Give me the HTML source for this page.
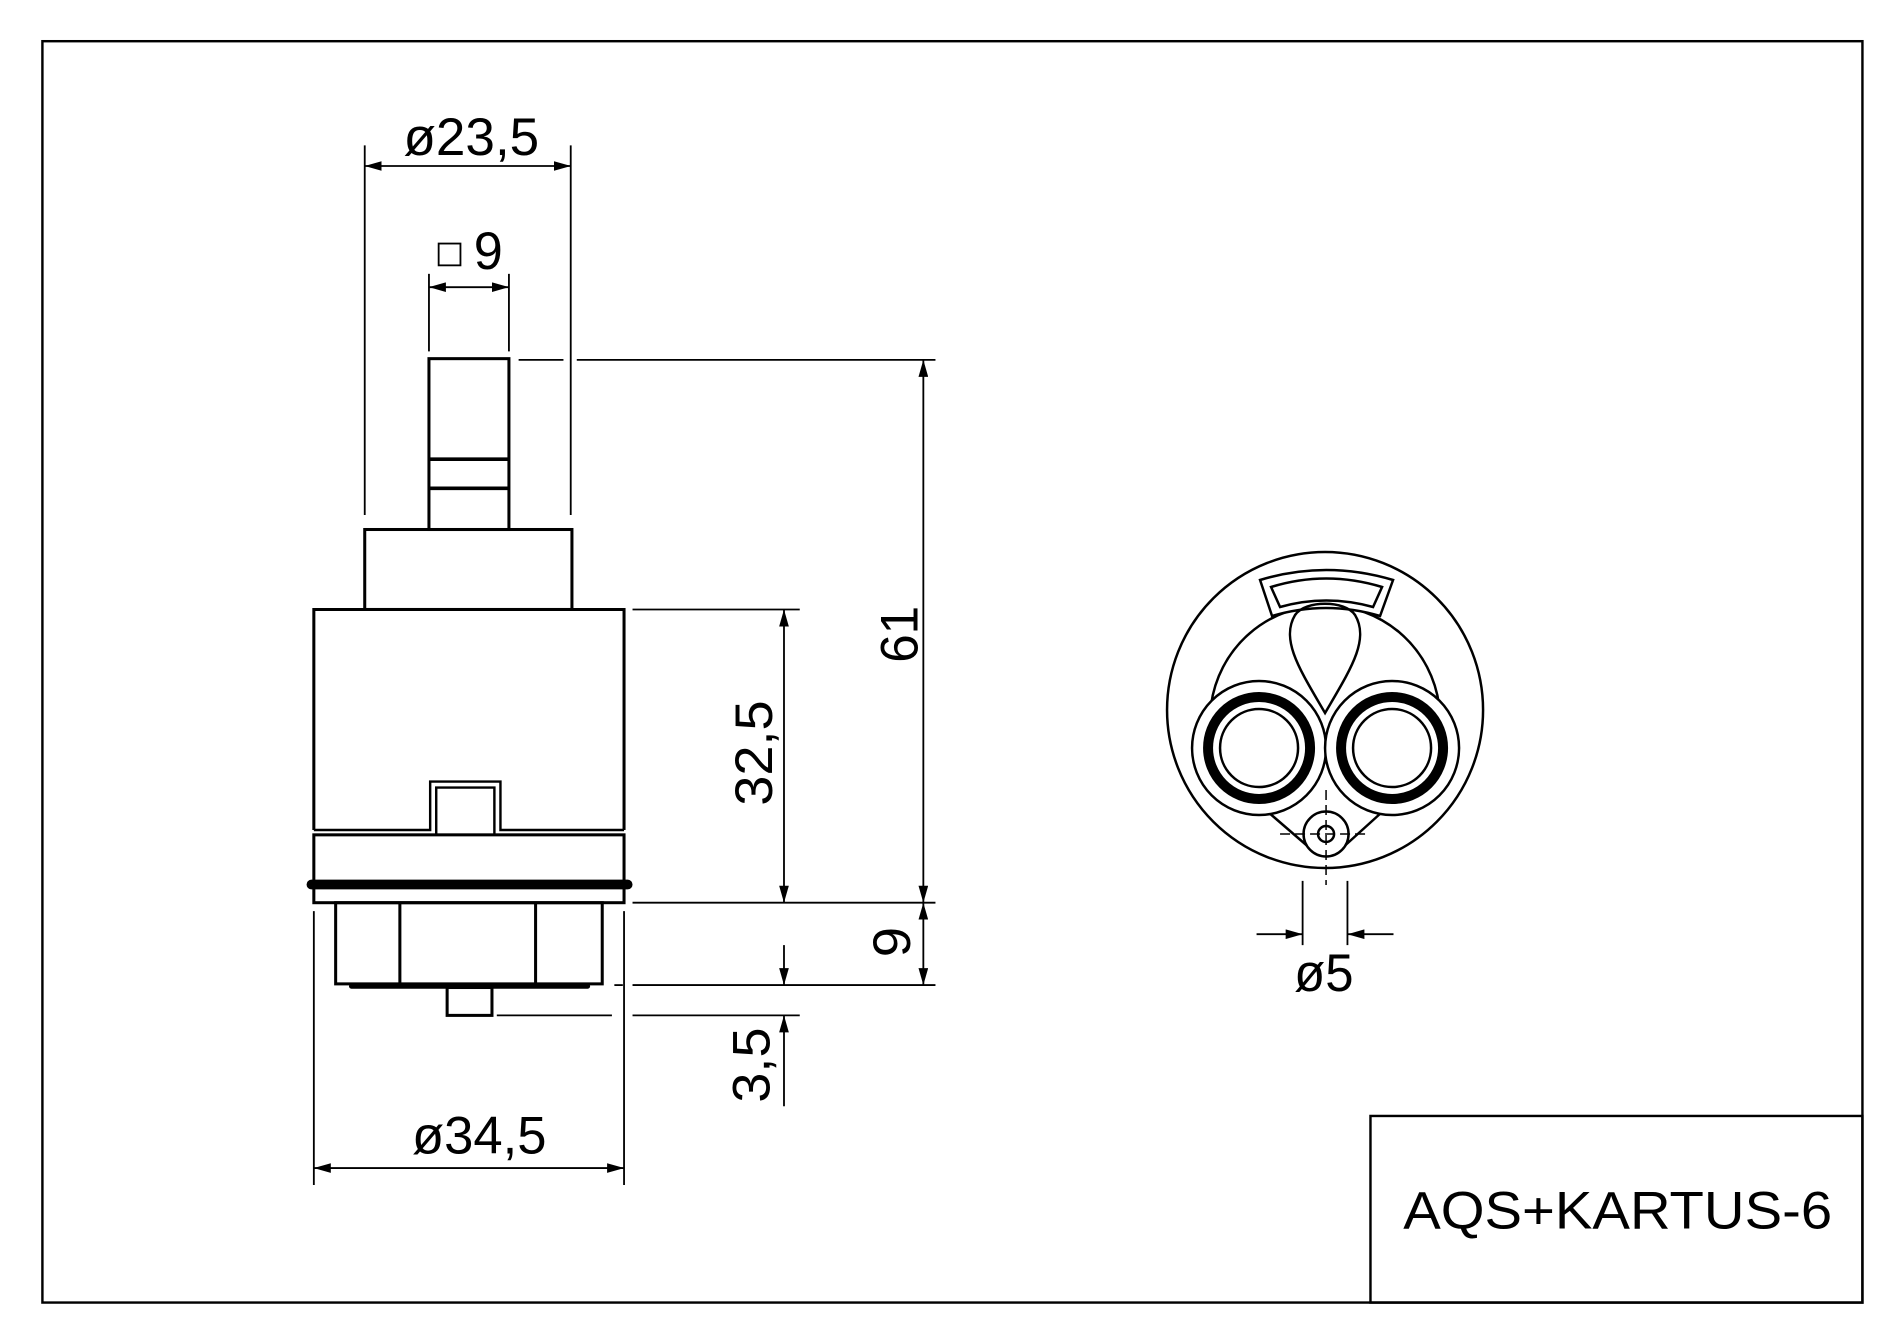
<!DOCTYPE html>
<html><head><meta charset="utf-8"><style>
html,body{margin:0;padding:0;background:#fff;}
svg{display:block;}
text{font-family:"Liberation Sans",sans-serif;fill:#000;}
</style></head><body>
<svg width="1900" height="1328" viewBox="0 0 1568 1096" preserveAspectRatio="none" xmlns="http://www.w3.org/2000/svg">
<defs>
<marker id="a" viewBox="0 0 14 8" refX="14" refY="4" markerWidth="14" markerHeight="8" markerUnits="userSpaceOnUse" orient="auto-start-reverse"><path d="M0,0 L14,4 L0,8 z" fill="#000"/></marker>
</defs>
<rect width="1568" height="1096" fill="#fff"/>
<g fill="none" stroke="#000" stroke-width="2">
<rect x="35" y="34" width="1502" height="1041"/>
<rect x="1131" y="921" width="406" height="154"/>
<rect x="354" y="296" width="66" height="141" stroke-width="2.5"/>
<line x1="354" y1="379" x2="420" y2="379" stroke-width="3"/>
<line x1="354" y1="403" x2="420" y2="403" stroke-width="3"/>
<rect x="301" y="437" width="171" height="66" stroke-width="2.5"/>
<polyline points="259,685 259,503 515,503 515,685" stroke-width="2.5"/>
<polyline points="259,685 355,685 355,645 413,645 413,685 515,685" stroke-width="2"/>
<polyline points="259,689 360,689 360,650 408,650 408,689 515,689" stroke-width="2"/>
<rect x="259" y="689" width="256" height="56" stroke-width="2.5"/>
<line x1="257" y1="730" x2="518" y2="730" stroke-width="8" stroke-linecap="round"/>
<rect x="277" y="745" width="220" height="67" stroke-width="2.5"/>
<line x1="330" y1="745" x2="330" y2="812" stroke-width="2.5"/>
<line x1="442" y1="745" x2="442" y2="812" stroke-width="2.5"/>
<line x1="290" y1="814" x2="485" y2="814" stroke-width="4" stroke-linecap="round"/>
<rect x="369" y="815" width="37" height="23" stroke-width="2.5"/>
<line x1="301" y1="120" x2="301" y2="425" stroke-width="1.5"/>
<line x1="471" y1="120" x2="471" y2="425" stroke-width="1.5"/>
<line x1="301" y1="137" x2="471" y2="137" stroke-width="1.5" marker-start="url(#a)" marker-end="url(#a)"/>
<line x1="354" y1="226" x2="354" y2="290" stroke-width="1.5"/>
<line x1="420" y1="226" x2="420" y2="290" stroke-width="1.5"/>
<line x1="354" y1="237" x2="420" y2="237" stroke-width="1.5" marker-start="url(#a)" marker-end="url(#a)"/>
<rect x="362" y="201" width="18" height="18" stroke-width="1.5"/>
<line x1="428" y1="297" x2="465" y2="297" stroke-width="1.5"/>
<line x1="476" y1="297" x2="772" y2="297" stroke-width="1.5"/>
<line x1="762" y1="297" x2="762" y2="745" stroke-width="1.5" marker-start="url(#a)" marker-end="url(#a)"/>
<line x1="522" y1="503" x2="660" y2="503" stroke-width="1.5"/>
<line x1="647" y1="503" x2="647" y2="745" stroke-width="1.5" marker-start="url(#a)" marker-end="url(#a)"/>
<line x1="522" y1="745" x2="772" y2="745" stroke-width="1.5"/>
<line x1="762" y1="745" x2="762" y2="813" stroke-width="1.5" marker-start="url(#a)" marker-end="url(#a)"/>
<line x1="507" y1="813" x2="514" y2="813" stroke-width="1.5"/>
<line x1="522" y1="813" x2="772" y2="813" stroke-width="1.5"/>
<line x1="410" y1="838" x2="505" y2="838" stroke-width="1.5"/>
<line x1="522" y1="838" x2="660" y2="838" stroke-width="1.5"/>
<line x1="647" y1="780" x2="647" y2="813" stroke-width="1.5" marker-end="url(#a)"/>
<line x1="647" y1="913" x2="647" y2="838" stroke-width="1.5" marker-end="url(#a)"/>
<line x1="259" y1="752" x2="259" y2="978" stroke-width="1.5"/>
<line x1="515" y1="752" x2="515" y2="978" stroke-width="1.5"/>
<line x1="259" y1="964" x2="515" y2="964" stroke-width="1.5" marker-start="url(#a)" marker-end="url(#a)"/>
<g transform="scale(0.8253)">
<circle cx="1325" cy="710" r="158" stroke-width="2.5"/>
<path d="M1211,705 A115,115 0 0 1 1439,705" stroke-width="2.5"/>
<path d="M1260,580 Q1326,560 1393,580 L1380,616 Q1326,600 1272,616 Z" fill="#fff" stroke-width="2.5"/>
<path d="M1271,587 Q1326,570 1382,587 L1373,607 Q1326,594 1280,607 Z" stroke-width="2.5"/>
<path d="M1325,713 C1300,670 1280,640 1295,615 C1305,600 1345,600 1355,615 C1370,640 1350,670 1325,713 Z" stroke-width="2.5"/>
<line x1="1268" y1="812" x2="1312" y2="850" stroke-width="2.5"/>
<line x1="1382" y1="812" x2="1340" y2="850" stroke-width="2.5"/>
<circle cx="1259" cy="748" r="67" fill="#fff" stroke-width="2.5"/>
<circle cx="1392" cy="748" r="67" fill="#fff" stroke-width="2.5"/>
<circle cx="1259" cy="748" r="51" stroke-width="10"/>
<circle cx="1392" cy="748" r="51" stroke-width="10"/>
<circle cx="1259" cy="748" r="39" stroke-width="2.5"/>
<circle cx="1392" cy="748" r="39" stroke-width="2.5"/>
<circle cx="1326" cy="834" r="22.5" fill="#fff" stroke-width="2.5"/>
<circle cx="1326" cy="834" r="8" stroke-width="2.5"/>
<line x1="1326" y1="790" x2="1326" y2="885" stroke-width="1.5" stroke-dasharray="10,5"/>
<line x1="1280" y1="834" x2="1370" y2="834" stroke-width="1.5" stroke-dasharray="10,5"/>
</g>
<line x1="1075" y1="727" x2="1075" y2="780" stroke-width="1.5"/>
<line x1="1112" y1="727" x2="1112" y2="780" stroke-width="1.5"/>
<line x1="1037" y1="771" x2="1075" y2="771" stroke-width="1.5" marker-end="url(#a)"/>
<line x1="1150" y1="771" x2="1112" y2="771" stroke-width="1.5" marker-end="url(#a)"/>
</g>
<g font-size="44">
<text x="333" y="128" textLength="112" lengthAdjust="spacingAndGlyphs">ø23,5</text>
<text x="391" y="222" textLength="24" lengthAdjust="spacingAndGlyphs">9</text>
<text x="340" y="952" textLength="111" lengthAdjust="spacingAndGlyphs">ø34,5</text>
<text x="1068" y="818" textLength="49" lengthAdjust="spacingAndGlyphs">ø5</text>
<text transform="translate(757,547) rotate(-90)" textLength="47" lengthAdjust="spacingAndGlyphs">61</text>
<text transform="translate(637,665) rotate(-90)" textLength="87" lengthAdjust="spacingAndGlyphs">32,5</text>
<text transform="translate(751,790) rotate(-90)" textLength="25" lengthAdjust="spacingAndGlyphs">9</text>
<text transform="translate(635,910) rotate(-90)" textLength="62" lengthAdjust="spacingAndGlyphs">3,5</text>
<text x="1158" y="1014" textLength="354" lengthAdjust="spacingAndGlyphs">AQS+KARTUS-6</text>
</g>
</svg>
</body></html>
